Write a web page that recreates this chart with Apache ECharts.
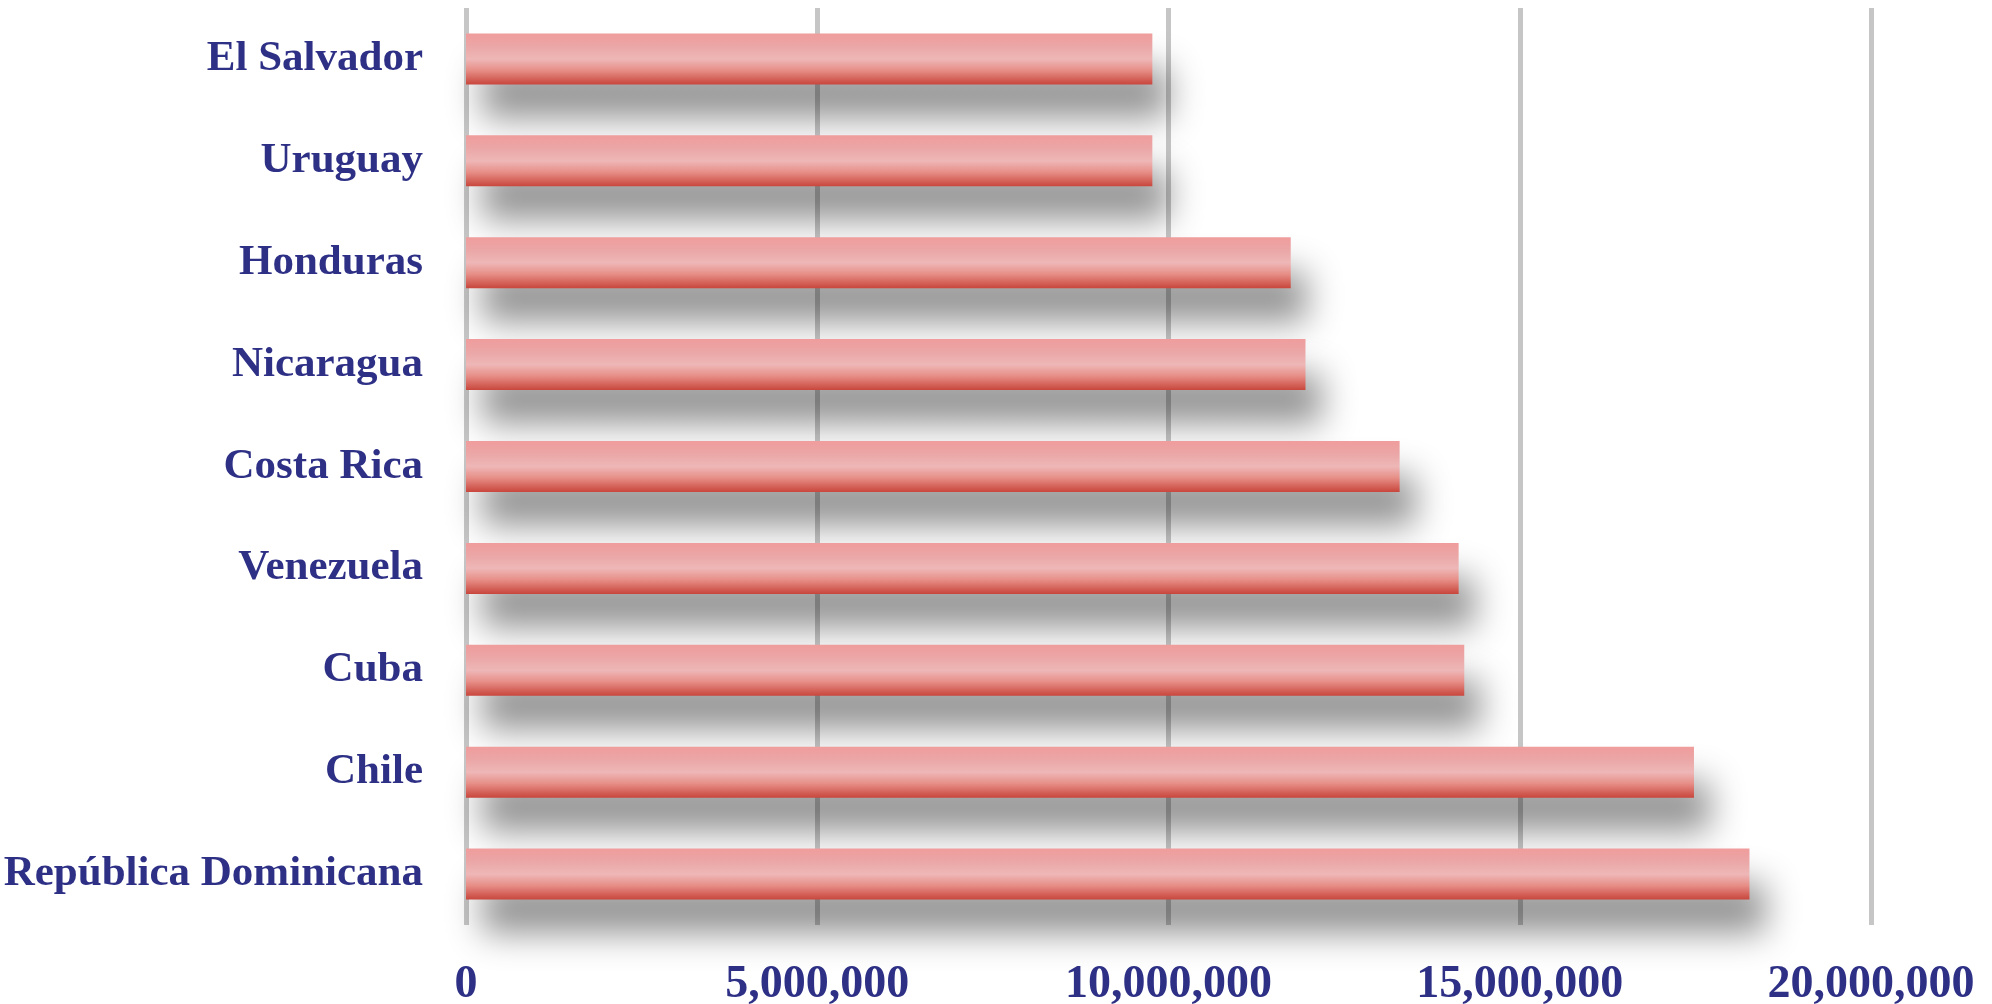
<!DOCTYPE html>
<html>
<head>
<meta charset="utf-8">
<script src="https://cdn.jsdelivr.net/npm/echarts@6/dist/echarts.min.js"></script>
<style>
html,body{margin:0;padding:0;background:#fff;}
#chart{width:1992px;height:1004px;}
</style>
</head>
<body>
<div id="chart"></div>
<script>
const categories = ['El Salvador','Uruguay','Honduras','Nicaragua','Costa Rica','Venezuela','Cuba','Chile','República Dominicana'];
const values = [9770000, 9770000, 11740000, 11950000, 13290000, 14130000, 14210000, 17480000, 18270000];
const xTicks = [0, 5000000, 10000000, 15000000, 20000000];

const labelColor = '#2e3086';
const chart = echarts.init(document.getElementById('chart'), null, {renderer:'canvas'});
chart.setOption({
  animation:false,
  backgroundColor:'#ffffff',
  grid:{left:466, right:121, top:8, bottom:79, containLabel:false, outerBoundsMode:'none'},
  xAxis:{
    type:'value', min:xTicks[0], max:xTicks[xTicks.length-1], interval:xTicks[1]-xTicks[0],
    axisLine:{show:false}, axisTick:{show:false},
    splitLine:{show:true, lineStyle:{color:'#c6c6c6', width:5}},
    axisLabel:{
      margin:37, fontSize:46, fontWeight:'bold', fontFamily:'Liberation Serif', color:labelColor,
      formatter:v=>v.toLocaleString('en-US')
    }
  },
  yAxis:{
    type:'category', data:categories, inverse:true,
    axisLine:{show:false}, axisTick:{show:false}, splitLine:{show:false},
    axisLabel:{margin:43, fontSize:43, fontWeight:'bold', fontFamily:'Liberation Serif', color:labelColor, padding:[6,0,0,0]}
  },
  series:[{
    type:'bar', data:values, barWidth:51,
    itemStyle:{
      color:{type:'linear', x:0, y:0, x2:0, y2:1, colorStops:[
        {offset:0, color:'#f09c9c'},
        {offset:0.25, color:'#eba6a6'},
        {offset:0.5, color:'#eeb7b7'},
        {offset:0.72, color:'#e78f88'},
        {offset:1, color:'#c8463c'}
      ]},
      shadowColor:'rgba(0,0,0,0.42)', shadowBlur:34, shadowOffsetX:16, shadowOffsetY:34
    }
  }]
});
</script>
</body>
</html>
